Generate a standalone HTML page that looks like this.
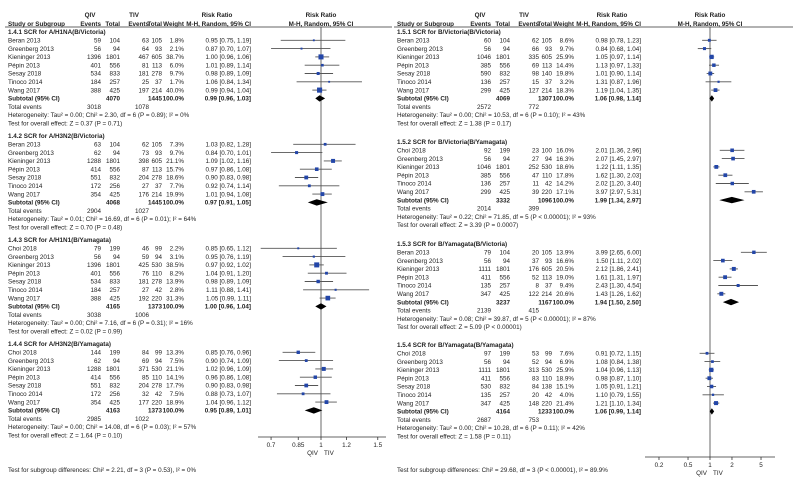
<!DOCTYPE html>
<html><head><meta charset="utf-8"><style>
html,body{margin:0;padding:0;background:#fff}
svg{display:block;font-family:"Liberation Sans",Arial,sans-serif}
</style></head><body>
<svg id="c" width="793" height="485" viewBox="0 0 793 485"></svg>
<script>
// ---- data arrays (left panel) ----
const L_titles=["1.4.1 SCR for A/H1NA(B/Victoria)","1.4.2 SCR for A/H3N2(B/Victoria)","1.4.3 SCR for A/H1N1(B/Yamagata)","1.4.4 SCR for A/H3N2(B/Yamagata)"];
const L_studies=[
["Beran 2013","Greenberg 2013","Kieninger 2013","Pépin 2013","Sesay 2018","Tinoco 2014","Wang 2017"],
["Beran 2013","Greenberg 2013","Kieninger 2013","Pépin 2013","Sesay 2018","Tinoco 2014","Wang 2017"],
["Choi 2018","Greenberg 2013","Kieninger 2013","Pépin 2013","Sesay 2018","Tinoco 2014","Wang 2017"],
["Choi 2018","Greenberg 2013","Kieninger 2013","Pépin 2013","Sesay 2018","Tinoco 2014","Wang 2017"]];
const L_qe=[[59,56,1396,401,534,184,388],[63,62,1288,414,551,172,354],[79,56,1396,401,534,184,388],[144,62,1288,414,551,172,354]];
const L_qt=[[104,94,1801,556,833,257,425],[104,94,1801,556,832,256,425],[199,94,1801,556,833,257,425],[199,94,1801,556,832,256,425]];
const L_te=[[63,64,467,81,181,25,197],[62,73,398,87,204,27,176],[46,59,425,76,181,27,192],[84,69,371,85,204,32,177]];
const L_tt=[[105,93,605,113,278,37,214],[105,93,605,113,278,37,214],[99,94,530,110,278,42,220],[99,94,530,110,278,42,220]];
const L_w=[[1.8,2.1,38.7,6.0,9.7,1.7,40.0],[7.3,9.7,21.1,15.7,18.6,7.7,19.9],[2.2,3.1,38.5,8.2,13.9,2.8,31.3],[13.3,7.5,21.1,14.1,17.7,7.5,18.9]];
const L_rr=[[0.95,0.87,1.00,1.01,0.98,1.06,0.99],[1.03,0.84,1.09,0.97,0.90,0.92,1.01],[0.85,0.95,0.97,1.04,0.98,1.11,1.05],[0.85,0.90,1.02,0.96,0.90,0.88,1.04]];
const L_lo=[[0.75,0.70,0.96,0.89,0.89,0.84,0.94],[0.82,0.70,1.02,0.86,0.83,0.74,0.94],[0.65,0.76,0.92,0.91,0.89,0.88,0.99],[0.76,0.74,0.96,0.86,0.83,0.73,0.96]];
const L_hi=[[1.19,1.07,1.06,1.14,1.09,1.34,1.04],[1.28,1.01,1.16,1.08,0.98,1.14,1.08],[1.12,1.19,1.02,1.20,1.09,1.41,1.11],[0.96,1.09,1.09,1.08,0.98,1.07,1.12]];
const L_subN=[[4070,1445],[4068,1445],[4165,1373],[4163,1373]];
const L_sub=[[0.99,0.96,1.03],[0.97,0.91,1.05],[1.00,0.96,1.04],[0.95,0.89,1.01]];
const L_tot=[[3018,1078],[2904,1027],[3038,1006],[2985,1022]];
const L_het=["Heterogeneity: Tau² = 0.00; Chi² = 2.30, df = 6 (P = 0.89); I² = 0%","Heterogeneity: Tau² = 0.01; Chi² = 16.69, df = 6 (P = 0.01); I² = 64%","Heterogeneity: Tau² = 0.00; Chi² = 7.16, df = 6 (P = 0.31); I² = 16%","Heterogeneity: Tau² = 0.00; Chi² = 14.08, df = 6 (P = 0.03); I² = 57%"];
const L_z=["Test for overall effect: Z = 0.37 (P = 0.71)","Test for overall effect: Z = 0.70 (P = 0.48)","Test for overall effect: Z = 0.02 (P = 0.99)","Test for overall effect: Z = 1.64 (P = 0.10)"];
const L_ticks=[0.7,0.85,1,1.2,1.5];
// ---- data arrays (right panel) ----
const R_titles=["1.5.1 SCR for B/Victoria(B/Victoria)","1.5.2 SCR for B/Victoria(B/Yamagata)","1.5.3 SCR for B/Yamagata(B/Victoria)","1.5.4 SCR for B/Yamagata(B/Yamagata)"];
const R_studies=[
["Beran 2013","Greenberg 2013","Kieninger 2013","Pépin 2013","Sesay 2018","Tinoco 2014","Wang 2017"],
["Choi 2018","Greenberg 2013","Kieninger 2013","Pépin 2013","Tinoco 2014","Wang 2017"],
["Beran 2013","Greenberg 2013","Kieninger 2013","Pépin 2013","Tinoco 2014","Wang 2017"],
["Choi 2018","Greenberg 2013","Kieninger 2013","Pépin 2013","Sesay 2018","Tinoco 2014","Wang 2017"]];
const R_qe=[[60,56,1046,385,590,136,299],[92,56,1046,385,136,299],[79,56,1111,411,135,347],[97,56,1111,411,530,135,347]];
const R_qt=[[104,94,1801,556,832,257,425],[199,94,1801,556,257,425],[104,94,1801,556,257,425],[199,94,1801,556,832,257,425]];
const R_te=[[62,66,335,69,98,15,127],[23,27,252,47,11,39],[20,37,176,52,8,122],[53,52,313,83,84,20,148]];
const R_tt=[[105,93,605,113,140,37,214],[100,94,530,110,42,220],[105,93,605,113,37,214],[99,94,530,110,138,42,220]];
const R_w=[[8.6,9.7,25.9,14.4,19.8,3.2,18.3],[16.0,16.3,18.6,17.8,14.2,17.1],[13.9,16.6,20.5,19.0,9.4,20.6],[7.6,6.9,25.9,18.9,15.1,4.0,21.4]];
const R_rr=[[0.98,0.84,1.05,1.13,1.01,1.31,1.19],[2.01,2.07,1.22,1.62,2.02,3.97],[3.99,1.50,2.12,1.61,2.43,1.43],[0.91,1.08,1.04,0.98,1.05,1.10,1.21]];
const R_lo=[[0.78,0.68,0.97,0.97,0.90,0.87,1.04],[1.36,1.45,1.11,1.30,1.20,2.97],[2.65,1.11,1.86,1.31,1.30,1.26],[0.72,0.84,0.96,0.87,0.91,0.79,1.10]];
const R_hi=[[1.23,1.04,1.14,1.33,1.14,1.96,1.35],[2.96,2.97,1.35,2.03,3.40,5.31],[6.00,2.02,2.41,1.97,4.54,1.62],[1.15,1.38,1.13,1.10,1.21,1.55,1.34]];
const R_subN=[[4069,1307],[3332,1096],[3237,1167],[4164,1233]];
const R_sub=[[1.06,0.98,1.14],[1.99,1.34,2.97],[1.94,1.50,2.50],[1.06,0.99,1.14]];
const R_tot=[[2572,772],[2014,399],[2139,415],[2687,753]];
const R_het=["Heterogeneity: Tau² = 0.00; Chi² = 10.53, df = 6 (P = 0.10); I² = 43%","Heterogeneity: Tau² = 0.22; Chi² = 71.85, df = 5 (P < 0.00001); I² = 93%","Heterogeneity: Tau² = 0.08; Chi² = 39.87, df = 5 (P < 0.00001); I² = 87%","Heterogeneity: Tau² = 0.00; Chi² = 10.28, df = 6 (P = 0.11); I² = 42%"];
const R_z=["Test for overall effect: Z = 1.38 (P = 0.17)","Test for overall effect: Z = 3.39 (P = 0.0007)","Test for overall effect: Z = 5.09 (P < 0.00001)","Test for overall effect: Z = 1.58 (P = 0.11)"];
const R_ticks=[0.2,0.5,1,2,5];

const svg=document.getElementById('c');
const NS="http://www.w3.org/2000/svg";
function mk(tag,attrs,txt){const e=document.createElementNS(NS,tag);for(const k in attrs)e.setAttribute(k,attrs[k]);if(txt!==undefined)e.textContent=txt;svg.appendChild(e);return e;}
function T(x,y,s,anchor,bold,name){const e=mk('text',{x:x,y:y+2.2,'font-size':6.3,fill:'#222','text-anchor':anchor||'start','font-weight':bold?'bold':'normal'},s);

return e;}
const f2=v=>v.toFixed(2);

function panel(P){
  const sx=v=>P.cx+Math.log(v)*P.k;
  T(P.qivC,15,"QIV","middle",true,'qiv-header');T(P.tivC,15,"TIV","middle",true,'tiv-header');
  T(P.rrC,15,"Risk Ratio","middle",true,'risk-ratio-header');T(P.cx,15,"Risk Ratio","middle",true,'plot-risk-ratio-header');
  T(P.x0,24,"Study or Subgroup","start",true,'study-header');
  T(P.c[0],24,"Events","end",true,'qiv-events-header');T(P.c[1],24,"Total","end",true,'qiv-total-header');
  T(P.c[2],24,"Events","end",true,'tiv-events-header');T(P.c[3],24,"Total","end",true,'tiv-total-header');
  T(P.c[4],24,"Weight","end",true,'weight-header');T(P.c[5],24,"M-H, Random, 95% CI","end",true,'ci-header');
  T(P.cx,24,"M-H, Random, 95% CI","middle",true,'plot-ci-header');
  let e=mk('line',{x1:P.x0-3,x2:P.xEnd,y1:27,y2:27,stroke:'#333','stroke-width':0.8});
  
  e=mk('line',{x1:P.cx,x2:P.cx,y1:27,y2:P.axY,stroke:'#444','stroke-width':0.8});
  
  for(let s=0;s<4;s++){
    const y0=P.starts[s],st=P.studies[s],n=st.length,step=8.3;
    T(P.x0,y0,P.titles[s],"start",true,'subgroup-title');
    for(let i=0;i<n;i++){
      const y=y0+(i+1)*step;
      T(P.x0,y,st[i],"start",false,'study-name');
      T(P.c[0],y,String(P.qe[s][i]),"end",false,'qiv-events');
      T(P.c[1],y,String(P.qt[s][i]),"end",false,'qiv-total');
      T(P.c[2],y,String(P.te[s][i]),"end",false,'tiv-events');
      T(P.c[3],y,String(P.tt[s][i]),"end",false,'tiv-total');
      T(P.c[4],y,P.w[s][i].toFixed(1)+"%","end",false,'weight');
      T(P.c[5],y,f2(P.rr[s][i])+" ["+f2(P.lo[s][i])+", "+f2(P.hi[s][i])+"]","end",false,'risk-ratio-ci');
      const x1=Math.max(P.ax0,sx(P.lo[s][i])),x2=Math.min(P.ax1,sx(P.hi[s][i]));
      let l=mk('line',{x1:x1,x2:x2,y1:y,y2:y,stroke:'#555','stroke-width':0.9});
      
      const sz=1+Math.sqrt(P.w[s][i])*0.65,cxp=sx(P.rr[s][i]);
      let r=mk('rect',{x:cxp-sz/2,y:y-sz/2,width:sz,height:sz,fill:'#2346a8'});
      
    }
    const ys=y0+(n+1)*step;
    T(P.x0,ys,"Subtotal (95% CI)","start",true,'subtotal-label');
    T(P.c[1],ys,String(P.subN[s][0]),"end",true,'subtotal-qiv');
    T(P.c[3],ys,String(P.subN[s][1]),"end",true,'subtotal-tiv');
    T(P.c[4],ys,"100.0%","end",true,'subtotal-weight');
    const sb=P.sub[s];
    T(P.c[5],ys,f2(sb[0])+" ["+f2(sb[1])+", "+f2(sb[2])+"]","end",true,'subtotal-ci');
    let d=mk('polygon',{points:`${sx(sb[1])},${ys} ${sx(sb[0])},${ys-3.2} ${sx(sb[2])},${ys} ${sx(sb[0])},${ys+3.2}`,fill:'#000'});
    
    T(P.x0,ys+step,"Total events","start",false,'total-events-label');
    T(P.c[0],ys+step,String(P.tot[s][0]),"end",false,'total-events-qiv');
    T(P.c[2],ys+step,String(P.tot[s][1]),"end",false,'total-events-tiv');
    T(P.x0,ys+2*step,P.het[s],"start",false,'heterogeneity-text');
    T(P.x0,ys+3*step,P.z[s],"start",false,'overall-effect-text');
  }
  e=mk('line',{x1:P.ax0,x2:P.ax1,y1:P.axY,y2:P.axY,stroke:'#333','stroke-width':0.8});
  
  P.ticks.forEach(t=>{
    let tk=mk('line',{x1:sx(t),x2:sx(t),y1:P.axY,y2:P.axY+3,stroke:'#333','stroke-width':0.8});
    
    T(sx(t),P.axY+8,String(t),"middle",false,'x-tick-label');
  });
  T(P.cx-3,P.axY+16,"QIV","end",false,'favours-qiv-label');
  T(P.cx+3,P.axY+16,"TIV","start",false,'favours-tiv-label');
  T(P.x0,470,P.sgTest,"start",false,'subgroup-differences-text');
}
panel({x0:8,xEnd:392,c:[101,120,149,162,184,251],qivC:90,tivC:134,rrC:217,cx:321,k:140,ax0:258,ax1:386,axY:437,
 starts:[32,136,240,344],titles:L_titles,studies:L_studies,qe:L_qe,qt:L_qt,te:L_te,tt:L_tt,w:L_w,rr:L_rr,lo:L_lo,hi:L_hi,
 subN:L_subN,sub:L_sub,tot:L_tot,het:L_het,z:L_z,ticks:L_ticks,
 sgTest:"Test for subgroup differences: Chi² = 2.21, df = 3 (P = 0.53), I² = 0%"});
panel({x0:397,xEnd:793,c:[491,510,539,552,574,641],qivC:480,tivC:524,rrC:612,cx:710,k:31.7,ax0:645,ax1:775,axY:457,
 starts:[32,142,244,345],titles:R_titles,studies:R_studies,qe:R_qe,qt:R_qt,te:R_te,tt:R_tt,w:R_w,rr:R_rr,lo:R_lo,hi:R_hi,
 subN:R_subN,sub:R_sub,tot:R_tot,het:R_het,z:R_z,ticks:R_ticks,
 sgTest:"Test for subgroup differences: Chi² = 29.68, df = 3 (P < 0.00001), I² = 89.9%"});
</script>
</body></html>
